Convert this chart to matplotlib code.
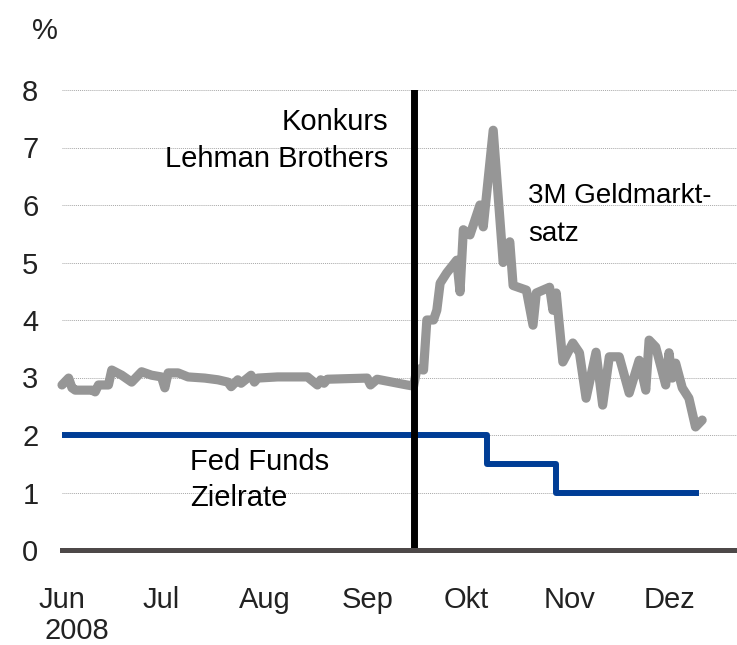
import pandas as pd
import matplotlib
matplotlib.use("Agg")
import matplotlib.pyplot as plt

plt.rcParams['font.family'] = ['Liberation Sans', 'DejaVu Sans']

# 3M Geldmarktsatz
geld_dates = [
    "2008-06-01", "2008-06-03", "2008-06-04", "2008-06-05", "2008-06-10", "2008-06-11",
    "2008-06-12", "2008-06-15", "2008-06-16", "2008-06-19", "2008-06-22", "2008-06-25",
    "2008-06-28", "2008-07-01", "2008-07-02", "2008-07-03", "2008-07-06", "2008-07-09",
    "2008-07-14", "2008-07-18", "2008-07-21", "2008-07-22", "2008-07-24", "2008-07-25",
    "2008-07-28", "2008-07-29", "2008-07-30", "2008-08-05", "2008-08-14", "2008-08-17",
    "2008-08-18", "2008-08-19", "2008-08-20", "2008-09-01", "2008-09-02", "2008-09-04",
    "2008-09-13", "2008-09-15", "2008-09-16", "2008-09-18", "2008-09-19", "2008-09-21",
    "2008-09-22", "2008-09-23", "2008-09-25", "2008-09-28", "2008-09-29", "2008-09-30",
    "2008-10-02", "2008-10-05", "2008-10-06", "2008-10-09", "2008-10-12", "2008-10-14",
    "2008-10-15", "2008-10-17", "2008-10-19", "2008-10-21", "2008-10-22", "2008-10-26",
    "2008-10-27", "2008-10-28", "2008-10-30", "2008-11-02", "2008-11-04", "2008-11-06",
    "2008-11-09", "2008-11-11", "2008-11-13", "2008-11-16", "2008-11-19", "2008-11-22",
    "2008-11-24", "2008-11-25", "2008-11-27", "2008-11-30", "2008-12-01", "2008-12-02",
    "2008-12-03", "2008-12-05", "2008-12-07", "2008-12-09", "2008-12-11",
]
geld_vals = [
    2.87, 2.99, 2.82, 2.78, 2.78, 2.75,
    2.87, 2.87, 3.13, 3.04, 2.92, 3.10,
    3.04, 3.01, 2.82, 3.08, 3.08, 3.01,
    2.99, 2.96, 2.92, 2.84, 2.96, 2.90,
    3.04, 2.92, 2.99, 3.01, 3.01, 2.87,
    2.96, 2.90, 2.97, 2.99, 2.87, 2.97,
    2.87, 2.85, 3.15, 3.13, 4.00, 4.00,
    4.17, 4.64, 4.82, 5.04, 4.49, 5.57,
    5.48, 6.00, 5.62, 7.30, 5.00, 5.36,
    4.60, 4.56, 4.52, 3.91, 4.47, 4.57,
    4.17, 4.47, 3.27, 3.60, 3.43, 2.64,
    3.44, 2.52, 3.36, 3.36, 2.73, 3.30,
    2.78, 3.65, 3.53, 2.87, 3.43, 2.99,
    3.25, 2.82, 2.64, 2.14, 2.26,
]

# Fed Funds Zielrate
fed_dates = ["2008-06-01", "2008-10-07", "2008-10-28", "2008-12-09"]
fed_vals = [2.0, 1.5, 1.0, 1.0]

lehman_date = "2008-09-15"
month_starts = ["2008-06-01", "2008-07-01", "2008-08-01", "2008-09-01",
                "2008-10-01", "2008-11-01", "2008-12-01"]
month_labels = ["Jun", "Jul", "Aug", "Sep", "Okt", "Nov", "Dez"]

gd = pd.to_datetime(geld_dates)
fd = pd.to_datetime(fed_dates)
ms = pd.to_datetime(month_starts)

fig = plt.figure(figsize=(7.37, 6.45), dpi=100)
ax = fig.add_axes([62 / 737, 95 / 645, 675 / 737, 460 / 645])

x0 = pd.Timestamp("2008-06-01")
ax.set_xlim(x0, x0 + pd.Timedelta(days=203.5))
ax.set_ylim(0, 8)

for v in range(1, 9):
    ax.axhline(v, color='#a8a8a8', lw=0.7, ls=(0, (1, 1)), zorder=1)

ax.plot(gd, geld_vals, color='#969696', lw=6.6, solid_joinstyle='round',
        solid_capstyle='round', zorder=3, clip_on=False)
ax.plot(fd, fed_vals, color='#003d96', lw=4.3, drawstyle='steps-post', zorder=4)
ax.axvline(pd.Timestamp(lehman_date), color='black', lw=5.0, zorder=5)
ax.axhline(0, color='#4d4848', lw=3.6, zorder=6, clip_on=False)

for s in ax.spines.values():
    s.set_visible(False)

fs = 21
ax.set_yticks(range(0, 9))
ax.set_xticks(ms)
ax.set_xticklabels(month_labels)
ax.tick_params(axis='both', length=0, labelsize=fs, colors='#222222')
ax.tick_params(axis='y', pad=17)
ax.tick_params(axis='x', pad=26)

tr = ax.get_yaxis_transform()
ax.text(0.483, 7.44, "Konkurs", transform=tr, ha='right', va='center', fontsize=fs)
ax.text(0.483, 6.80, "Lehman Brothers", transform=tr, ha='right', va='center', fontsize=fs)
ax.text((528 - 62) / 675, 6.15, "3M Geldmarkt-", transform=tr, ha='left', va='center', fontsize=20)
ax.text((528 - 62) / 675, 5.50, "satz", transform=tr, ha='left', va='center', fontsize=20)
ax.text((190 - 62) / 675, 1.53, "Fed Funds", transform=tr, ha='left', va='center', fontsize=fs)
ax.text((190 - 62) / 675, 0.90, "Zielrate", transform=tr, ha='left', va='center', fontsize=fs)

fig.text(45 / 737, 1 - 31 / 645, "%", ha='center', va='center', fontsize=fs, color='#222222')
fig.text(77 / 737, 1 - 631 / 645, "2008", ha='center', va='center', fontsize=fs, color='#222222')

fig.savefig("out.png", dpi=100)
